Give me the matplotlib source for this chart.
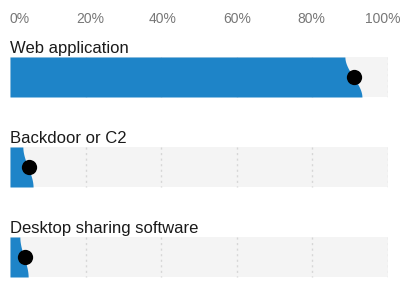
import numpy as np
import matplotlib
matplotlib.use("Agg")
import matplotlib.pyplot as plt
import matplotlib.transforms as mtransforms

# Share of incidents per initial access vector (percent), with uncertainty range
categories = ["Web application", "Backdoor or C2", "Desktop sharing software"]
estimate = [91.0, 5.0, 4.0]
lower = [88.6, 3.4, 2.6]
upper = [93.1, 6.1, 4.8]

tick_values = [0, 20, 40, 60, 80, 100]
tick_labels = ["0%", "20%", "40%", "60%", "80%", "100%"]

BLUE = "#1e84c8"
TRACK = "#f4f4f4"
GRID = "#d6d6d6"
TEXT = "#1a1a1a"
TICK = "#777777"

W, H = 408, 284
fig = plt.figure(figsize=(W / 100, H / 100), dpi=100)
ax = fig.add_axes([10 / W, 0, 378 / W, 1])
ax.set_xlim(0, 100)
ax.set_ylim(H, 0)
ax.axis("off")

font = ["Liberation Sans", "DejaVu Sans"]

# axis labels along the top
tick_shift = {0: 0, 20: 5, 40: 1, 60: 0, 80: -1, 100: -5}
for v, lab in zip(tick_values, tick_labels):
    off = mtransforms.offset_copy(ax.transData, fig=fig, x=tick_shift[v], y=0, units="dots")
    ha = "left" if v == 0 else "center"
    ax.text(v, 23, lab, transform=off, ha=ha, va="baseline",
            fontsize=10, color=TICK, family=font)

row_top = 57
row_step = 90
bar_h = 40
t = np.linspace(0, 1, 200)
smooth = t * t * (3 - 2 * t)

for i, (name, est, lo, hi) in enumerate(zip(categories, estimate, lower, upper)):
    top = row_top + i * row_step
    bot = top + bar_h
    ax.text(0, top - 4, name, ha="left", va="baseline", fontsize=12,
            color=TEXT, family=font)
    # track
    ax.fill_between([0, 100], top, bot, color=TRACK, lw=0, zorder=1)
    # dotted gridlines inside the track
    for g in tick_values[1:]:
        ax.plot([g, g], [top, bot], color=GRID, lw=1, ls=(0, (1.5, 2.5)), zorder=2)
    # filled share with a smooth edge spanning the uncertainty range
    ys = top + t * bar_h
    xs = lo + (hi - lo) * smooth
    ax.fill_betweenx(ys, 0, xs, color=BLUE, lw=0, zorder=3)
    # point estimate
    ax.plot([est], [(top + bot) / 2], "o", color="black", ms=11, mew=0, zorder=4,
            clip_on=False)

fig.savefig("out.png", dpi=100)
